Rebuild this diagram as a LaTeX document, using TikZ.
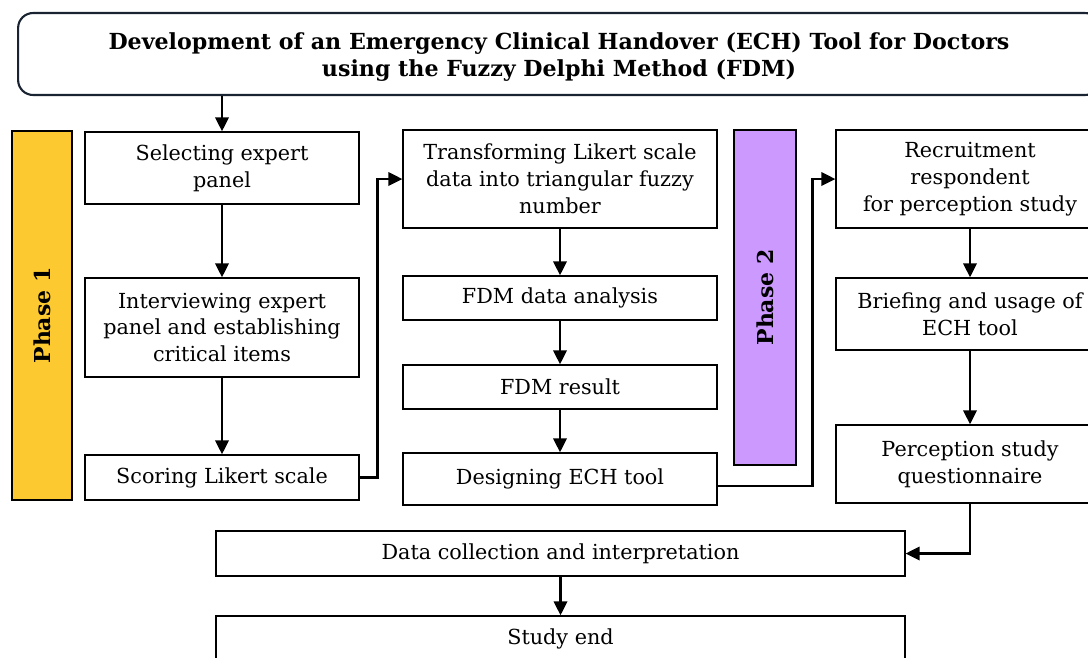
\documentclass[tikz,border=0pt]{standalone}
\usepackage{fontspec}
\setmainfont{DejaVu Serif}
\usetikzlibrary{arrows.meta}

\definecolor{phaseone}{RGB}{252,202,48}
\definecolor{phasetwo}{RGB}{204,153,255}
\definecolor{titleline}{RGB}{25,35,50}

\begin{document}
\begin{tikzpicture}[x=0.02cm, y=-0.02cm,
    box/.style={draw, line width=0.7pt, fill=white, align=center, inner sep=2pt,
        font=\fontsize{11.8}{15.3}\selectfont},
    phasebar/.style={draw, line width=0.7pt},
    phaselabel/.style={rotate=90, font=\fontsize{12.5}{15}\selectfont\bfseries},
    flow/.style={line width=1.6pt, -{Triangle[length=8pt, width=7.5pt]}}]
        % Fix the page size
        \useasboundingbox (0,0) rectangle (1088,657);

        % Title box
        \node[draw=titleline, line width=1.2pt, rounded corners=0.3cm,
              minimum width=21.64cm, minimum height=1.64cm] (title) at (559,54) {};
        \node[align=center, font=\fontsize{12.6}{15.8}\selectfont\bfseries] (titletext) at (559,57)
              {Development of an Emergency Clinical Handover (ECH) Tool for Doctors\\
               using the Fuzzy Delphi Method (FDM)};

        % Phase bars
        \node[phasebar, fill=phaseone, minimum width=1.2cm, minimum height=7.38cm] (phase1) at (42,315.5) {};
        \node[phaselabel] (phase1text) at (phase1.center) {Phase 1};
        \node[phasebar, fill=phasetwo, minimum width=1.24cm, minimum height=6.7cm] (phase2) at (765,297.5) {};
        \node[phaselabel] (phase2text) at (phase2.center) {Phase 2};

        % First column
        \node[box, minimum width=5.48cm, minimum height=1.44cm] (select) at (222,168) {Selecting expert\\panel};
        \node[box, minimum width=5.48cm, minimum height=1.98cm] (interview) at (222,327.5) {Interviewing expert\\panel and establishing\\critical items};
        \node[box, minimum width=5.48cm, minimum height=0.9cm] (scoring) at (222,477.5) {Scoring Likert scale};

        % Second column
        \node[box, minimum width=6.28cm, minimum height=1.96cm] (transform) at (560,179) {Transforming Likert scale\\data into triangular fuzzy\\number};
        \node[box, minimum width=6.28cm, minimum height=0.88cm] (analysis) at (560,298) {FDM data analysis};
        \node[box, minimum width=6.28cm, minimum height=0.88cm] (result) at (560,387) {FDM result};
        \node[box, minimum width=6.28cm, minimum height=1.04cm] (design) at (560,479) {Designing ECH tool};

        % Third column
        \node[box, minimum width=5.36cm, minimum height=1.96cm] (recruit) at (970,179) {Recruitment\\respondent\\for perception study};
        \node[box, minimum width=5.36cm, minimum height=1.44cm] (briefing) at (970,314) {Briefing and usage of\\ECH tool};
        \node[box, minimum width=5.36cm, minimum height=1.56cm] (question) at (970,464) {Perception study\\questionnaire};

        % Bottom row
        \node[box, minimum width=13.78cm, minimum height=0.9cm] (collect) at (560.5,553.5) {Data collection and interpretation};
        \node[box, minimum width=13.78cm, minimum height=0.9cm] (studyend) at (560.5,638.5) {Study end};

        % Draw connectors
        \draw[flow] (select.north |- title.south) -- (select.north);
        \draw[flow] (select) -- (interview);
        \draw[flow] (interview) -- (scoring);
        \draw[flow] (scoring.east) -- ++(18,0) |- (transform.west);
        \draw[flow] (transform) -- (analysis);
        \draw[flow] (analysis) -- (result);
        \draw[flow] (result) -- (design);
        \draw[flow] ([yshift=-0.14cm]design.east) -- ++(95,0) |- (recruit.west);
        \draw[flow] (recruit) -- (briefing);
        \draw[flow] (briefing) -- (question);
        \draw[flow] (question.south) |- (collect.east);
        \draw[flow] (collect) -- (studyend);
    \end{tikzpicture}
\end{document}
